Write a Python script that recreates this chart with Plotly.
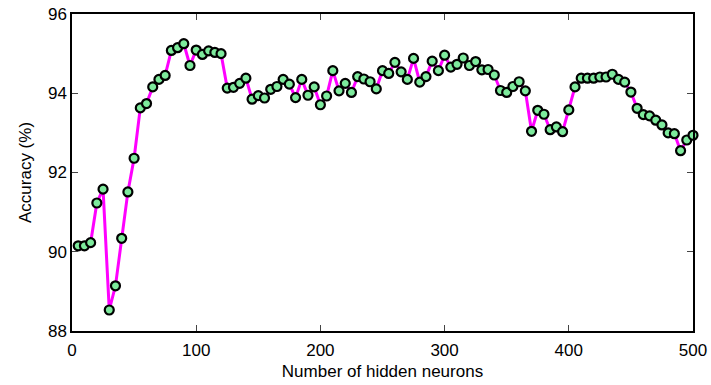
import plotly.graph_objects as go

hidden_neurons = list(range(5, 505, 5))
accuracy = [
    90.15, 90.15, 90.23, 91.23, 91.58, 88.53, 89.14, 90.34, 91.51, 92.36,
    93.63, 93.74, 94.16, 94.35, 94.45, 95.08, 95.15, 95.25, 94.70, 95.09,
    94.98, 95.07, 95.03, 95.00, 94.13, 94.15, 94.25, 94.38, 93.85, 93.94,
    93.88, 94.10, 94.17, 94.35, 94.23, 93.89, 94.35, 93.95, 94.16, 93.71,
    93.93, 94.57, 94.06, 94.25, 94.02, 94.42, 94.36, 94.29, 94.11, 94.57,
    94.50, 94.78, 94.54, 94.35, 94.88, 94.28, 94.42, 94.81, 94.57, 94.96,
    94.66, 94.73, 94.89, 94.70, 94.80, 94.59, 94.60, 94.46, 94.07, 94.02,
    94.17, 94.29, 94.06, 93.04, 93.57, 93.47, 93.08, 93.15, 93.03, 93.58,
    94.16, 94.38, 94.38, 94.38, 94.41, 94.41, 94.48, 94.35, 94.28, 94.03,
    93.62, 93.46, 93.43, 93.32, 93.20, 93.00, 92.98, 92.55, 92.82, 92.94,
]
x_ticks = [0, 100, 200, 300, 400, 500]
y_ticks = [88, 90, 92, 94, 96]

FONT = "Liberation Sans, Arial, Helvetica, sans-serif"

fig = go.Figure()
fig.add_trace(go.Scatter(
    x=hidden_neurons, y=accuracy, mode="lines+markers",
    line=dict(color="#FF00FF", width=3),
    marker=dict(size=9, color="#7DEA9C", line=dict(color="black", width=2.2)),
    cliponaxis=False,
    showlegend=False,
))

axis_common = dict(
    showline=True, linecolor="black", linewidth=1.5, mirror="ticks",
    ticks="inside", ticklen=6, tickcolor="#444", tickwidth=1.2,
    showgrid=False, zeroline=False, automargin=False,
    tickfont=dict(family=FONT, size=17, color="black"),
)

fig.update_xaxes(
    range=[0, 500], tickvals=x_ticks, ticklabelstandoff=3,
    title=dict(text="Number of hidden neurons", standoff=6,
               font=dict(family=FONT, size=17, color="black")),
    **axis_common,
)
fig.update_yaxes(
    range=[88, 96], tickvals=y_ticks,
    title=dict(text="Accuracy (%)", standoff=12,
               font=dict(family=FONT, size=17, color="black")),
    **axis_common,
)

fig.update_layout(
    width=711, height=385,
    margin=dict(l=72, r=18, t=14, b=54),
    paper_bgcolor="white", plot_bgcolor="white",
)

fig.write_html(
    "out.html",
    config={"displayModeBar": False},
    post_script="document.body.style.margin='0';document.body.style.overflow='hidden';",
)
